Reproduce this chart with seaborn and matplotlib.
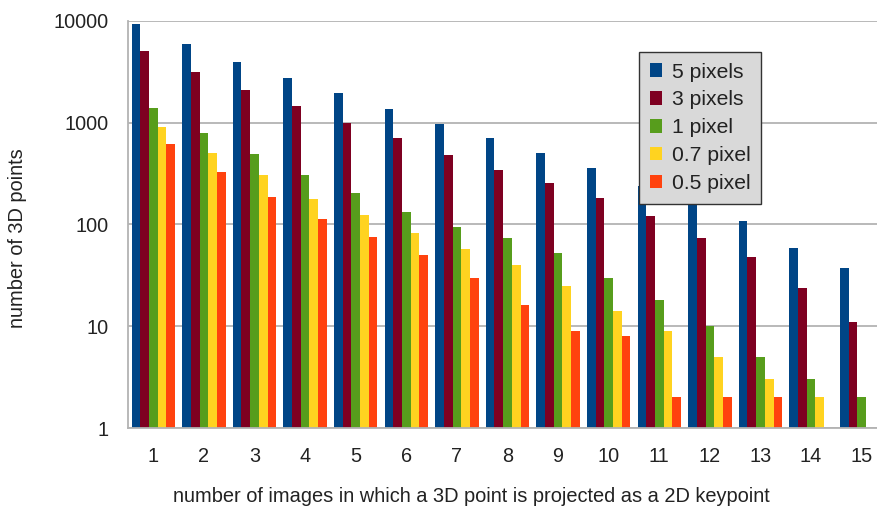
import numpy as np
import pandas as pd
import matplotlib
matplotlib.use("Agg")
import matplotlib.pyplot as plt
import matplotlib.ticker as mticker
import seaborn as sns

# Number of images in which a 3D point is seen as a 2D keypoint
images = list(range(1, 16))

# Point counts per reprojection-error threshold (None = no points)
px5 = [9300, 5900, 3950, 2750, 1950, 1360, 970, 706, 503, 358, 238, 180, 108, 59, 37]
px3 = [5050, 3140, 2090, 1460, 1000, 706, 481, 342, 255, 182, 121, 73, 48, 24, 11]
px1 = [1390, 790, 492, 306, 203, 132, 94, 73, 52, 30, 18, 10, 5, 3, 2]
px07 = [905, 503, 306, 178, 124, 82, 57, 40, 25, 14, 9, 5, 3, 2, None]
px05 = [616, 327, 186, 113, 75, 50, 30, 16, 9, 8, 2, 2, 2, None, None]

series_names = ["5 pixels", "3 pixels", "1 pixel", "0.7 pixel", "0.5 pixel"]
series_values = [px5, px3, px1, px07, px05]
colors = ["#004586", "#7e0021", "#579d1c", "#ffd320", "#ff420e"]

rows = []
for name, vals in zip(series_names, series_values):
    for n, v in zip(images, vals):
        if v is not None:
            rows.append({"images": str(n), "points": v, "threshold": name})
df = pd.DataFrame(rows)

sns.set_theme(style="white")
plt.rcParams["font.family"] = ["Liberation Sans", "DejaVu Sans"]

fig = plt.figure(figsize=(8.78, 5.08), dpi=100)
ax = fig.add_axes([128 / 878, 80 / 508, (887 - 128) / 878, (428 - 21) / 508])

sns.barplot(
    data=df, x="images", y="points", hue="threshold",
    order=[str(n) for n in images], hue_order=series_names,
    palette=colors, width=0.86, saturation=1, errorbar=None,
    linewidth=0, ax=ax,
)
ax.set_yscale("log")
ax.set_ylim(1, 10000)
ax.set_xlim(-0.5, len(images) - 0.5)

grid_c = "#b3b3b3"
text_c = "#222222"
ax.yaxis.set_major_locator(mticker.FixedLocator([1, 10, 100, 1000, 10000]))
ax.yaxis.set_major_formatter(mticker.FuncFormatter(lambda v, p: f"{int(round(v))}"))
ax.yaxis.set_minor_locator(mticker.NullLocator())
ax.grid(axis="y", color=grid_c, linewidth=1.3)
ax.set_axisbelow(True)

ax.xaxis.set_minor_locator(mticker.FixedLocator(np.arange(-0.5, len(images), 1.0)))
ax.tick_params(axis="x", which="major", length=0, pad=14, labelsize=14.3, labelcolor=text_c)
ax.tick_params(axis="x", which="minor", length=6, width=1.3, color=grid_c, direction="out")
ax.tick_params(axis="y", which="major", length=6, width=1.3, color=grid_c, direction="out",
               pad=8, labelsize=14.3, labelcolor=text_c)

for side in ("top", "right"):
    ax.spines[side].set_visible(False)
for side in ("left", "bottom"):
    ax.spines[side].set_color(grid_c)
    ax.spines[side].set_linewidth(1.3)

ax.set_xlabel("number of images in which a 3D point is projected as a 2D keypoint",
              fontsize=14.4, color=text_c)
ax.set_ylabel("number of 3D points", fontsize=14.4, color=text_c)
ax.xaxis.set_label_coords((471 - 128) / (887 - 128), -(487 - 428) / (428 - 21))
ax.yaxis.set_label_coords(-(128 - 27) / (887 - 128), (428 - 238) / (428 - 21))

leg = ax.legend(
    loc="upper left", bbox_to_anchor=(639 / 878, 1 - 52 / 508),
    bbox_transform=fig.transFigure, fontsize=15.2, frameon=True, fancybox=False,
    handlelength=0.6, handleheight=0.6, handletextpad=0.45, labelspacing=0.42,
    borderpad=0.5, borderaxespad=0, title=None,
)
frame = leg.get_frame()
frame.set_facecolor("#d9d9d9")
frame.set_edgecolor("#333333")
frame.set_alpha(1)
frame.set_linewidth(1.0)
for t in leg.get_texts():
    t.set_color(text_c)

fig.savefig("out.png", dpi=100)
